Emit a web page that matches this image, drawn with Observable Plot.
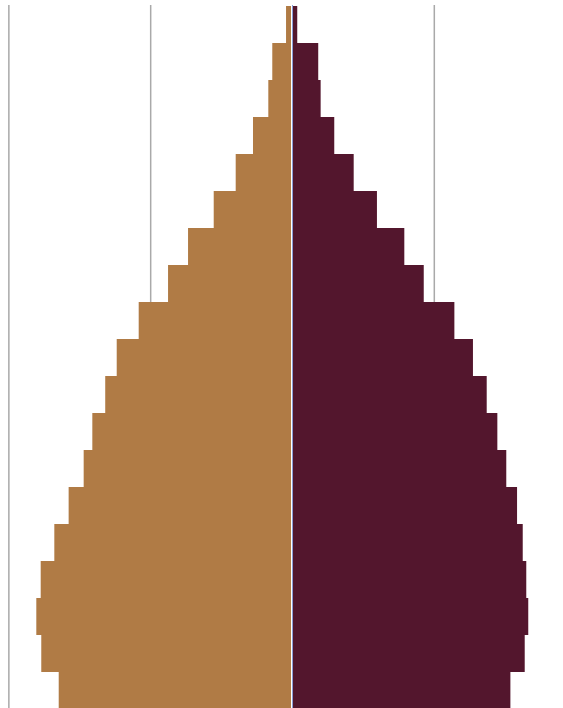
<!DOCTYPE html>
<html>
<head>
<meta charset="utf-8">
<script src="https://cdn.jsdelivr.net/npm/d3@7"></script>
<script src="https://cdn.jsdelivr.net/npm/@observablehq/plot@0.6"></script>
<style>
  html, body { margin: 0; padding: 0; background: #fff; overflow: hidden; }
  #chart svg { display: block; }
</style>
</head>
<body>
<div id="chart"></div>
<script>
// Age groups, oldest at top
const ageGroups = ["90+","85-89","80-84","75-79","70-74","65-69","60-64","55-59","50-54","45-49","40-44","35-39","30-34","25-29","20-24","15-19","10-14","5-9","0-4"];
// Share of population (%), left side (tan)
const leftValues = [0.042,0.139,0.167,0.275,0.397,0.552,0.733,0.874,1.081,1.236,1.317,1.408,1.469,1.575,1.676,1.772,1.803,1.768,1.645];
// Share of population (%), right side (maroon)
const rightValues = [0.037,0.185,0.202,0.298,0.435,0.599,0.792,0.929,1.145,1.276,1.373,1.448,1.511,1.587,1.627,1.652,1.666,1.641,1.540];
const gridTicks = [-2, -1, 1];

const leftData = ageGroups.map((a, i) => ({age: a, value: -leftValues[i]}));
const rightData = ageGroups.map((a, i) => ({age: a, value: rightValues[i]}));

const chart = Plot.plot({
  width: 563,
  height: 710,
  marginTop: 5,
  marginBottom: 1,
  marginLeft: 0,
  marginRight: 0,
  x: {domain: [-2.059, 1.911], axis: null},
  y: {domain: ageGroups, padding: 0, axis: null},
  marks: [
    Plot.ruleX(gridTicks, {stroke: "#a9a9a9", strokeWidth: 1.5}),
    Plot.barX(leftData, {x1: "value", x2: 0, y: "age", fill: "#b07b45", insetRight: 1}),
    Plot.barX(rightData, {x1: 0, x2: "value", y: "age", fill: "#53162d", insetLeft: 1}),
    Plot.ruleX([0], {stroke: "#8c9dd6", strokeWidth: 1})
  ]
});
document.getElementById("chart").appendChild(chart);
</script>
</body>
</html>
